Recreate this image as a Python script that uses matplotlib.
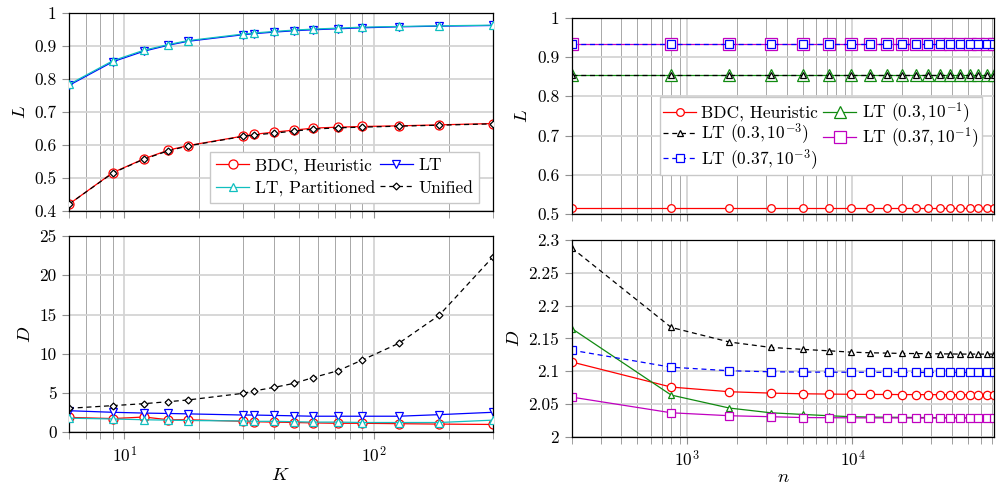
"""Two-by-two log-x comparison of L and D for BDC / LT variants."""
import matplotlib
matplotlib.use("Agg")
import matplotlib.pyplot as plt
import matplotlib.ticker as mticker
import matplotlib as mpl

FS = 12.5

mpl.rcParams.update({
    "font.family": "cmr10",
    "mathtext.fontset": "cm",
    "axes.unicode_minus": False,
    "font.size": FS,
    "axes.linewidth": 0.9,
})

RED = "#ff0000"
BLUE = "#0000ff"
CYAN = "#10bfbf"
BLACK = "#000000"
GREEN = "#108a10"
MAGENTA = "#c000c0"
GRID_MAJ = "#d4d4d4"
GRID_MIN = "#a8a8a8"

# ---------------- left: sweep over K ----------------
K = [6, 9, 12, 15, 18, 30, 33, 40, 48, 57, 72, 90, 126, 183, 300]

L_bdc = [0.420, 0.516, 0.558, 0.584, 0.598, 0.627, 0.632, 0.639, 0.645, 0.651,
         0.654, 0.656, 0.658, 0.661, 0.665]
L_unified = [0.420, 0.515, 0.557, 0.582, 0.597, 0.626, 0.630, 0.636, 0.642, 0.648,
             0.652, 0.654, 0.657, 0.660, 0.664]
L_lt = [0.781, 0.853, 0.885, 0.903, 0.915, 0.935, 0.938, 0.943, 0.947, 0.950,
        0.953, 0.956, 0.959, 0.961, 0.963]
L_ltpart = [0.784, 0.856, 0.888, 0.905, 0.917, 0.937, 0.940, 0.945, 0.949, 0.952,
            0.955, 0.958, 0.960, 0.962, 0.964]

D_bdc = [1.90, 1.75, 1.95, 1.60, 1.60, 1.40, 1.35, 1.30, 1.25, 1.20, 1.15, 1.15,
         1.10, 1.05, 1.00]
D_lt = [2.75, 2.55, 2.45, 2.40, 2.35, 2.20, 2.20, 2.15, 2.10, 2.05, 2.05, 2.05,
        2.05, 2.25, 2.55]
D_ltpart = [1.80, 1.70, 1.60, 1.55, 1.50, 1.45, 1.40, 1.40, 1.35, 1.30, 1.30,
            1.25, 1.25, 1.25, 1.55]
D_unified = [3.06, 3.40, 3.65, 3.90, 4.12, 4.97, 5.26, 5.73, 6.24, 6.96, 7.85,
             9.21, 11.33, 14.90, 22.30]

# ---------------- right: sweep over n ----------------
n = [200, 800, 1800, 3200, 5000, 7200, 9800, 12800, 16200, 20000, 24200, 28800,
     33800, 39200, 45000, 51200, 57800, 64800, 72200]

L_bdc_n = [0.515] * len(n)
L_lt03 = [0.853] * len(n)
L_lt037 = [0.932] * len(n)

D_bdc_n = [2.114, 2.0757, 2.0686, 2.0665, 2.0655, 2.065, 2.0647, 2.0645, 2.0644,
           2.0643, 2.0642, 2.0642, 2.0641, 2.0641, 2.0641, 2.0640, 2.0640, 2.0640,
           2.0640]
D_lt03_e1 = [2.165, 2.0635, 2.0437, 2.0365, 2.034, 2.032, 2.0305, 2.030, 2.0297,
             2.0295, 2.0293, 2.0292, 2.0291, 2.029, 2.029, 2.029, 2.029, 2.029,
             2.029]
D_lt03_e3 = [2.288, 2.1667, 2.1444, 2.1362, 2.1332, 2.131, 2.129, 2.128, 2.1275,
             2.127, 2.1268, 2.1266, 2.1264, 2.1262, 2.126, 2.126, 2.126, 2.126,
             2.126]
D_lt037_e1 = [2.0604, 2.0365, 2.032, 2.0305, 2.0292, 2.029, 2.0288, 2.0287,
              2.0286, 2.0286, 2.0285, 2.0285, 2.0285, 2.0285, 2.0285, 2.0285,
              2.0285, 2.0285, 2.0285]
D_lt037_e3 = [2.132, 2.106, 2.1006, 2.099, 2.0986, 2.0984, 2.0983, 2.0982, 2.0981,
              2.098, 2.098, 2.098, 2.098, 2.098, 2.098, 2.098, 2.098, 2.098, 2.098]


def style_axes(ax):
    ax.set_xscale("log")
    ax.grid(True, which="major", color=GRID_MAJ, linewidth=1.3)
    ax.grid(True, which="minor", axis="x", color=GRID_MIN, linewidth=0.7)
    ax.set_axisbelow(True)
    ax.tick_params(which="both", direction="out", color="#909090", labelsize=FS,
                   pad=4)
    ax.tick_params(which="major", length=5, width=0.8)
    ax.tick_params(which="minor", length=5, width=0.6)
    ax.xaxis.set_minor_formatter(mticker.NullFormatter())
    ax.yaxis.set_major_formatter(mticker.FuncFormatter(lambda v, p: f"{v:g}"))
    for sp in ax.spines.values():
        sp.set_color("black")


def line(ax, x, y, color, marker, ms, ls="-", label=None, z=2):
    ax.plot(x, y, ls, color=color, lw=0.9, marker=marker, ms=ms,
            mfc="white", mec=color, mew=0.9, label=label, zorder=z,
            dashes=(4, 3) if ls == "--" else (None, None))


LEG = dict(borderaxespad=0, fontsize=FS, frameon=True, fancybox=False,
           edgecolor="#c8c8c8", framealpha=1, handlelength=1.9,
           handletextpad=0.3, columnspacing=0.3)

fig = plt.figure(figsize=(10.03, 4.88), dpi=100)
ax_lt = fig.add_axes([0.0688, 0.5682, 0.4224, 0.4045])
ax_lb = fig.add_axes([0.0688, 0.1141, 0.4224, 0.4023])
ax_rt = fig.add_axes([0.5700, 0.5609, 0.4213, 0.4029])
ax_rb = fig.add_axes([0.5700, 0.1051, 0.4213, 0.4031])

for ax in (ax_lt, ax_lb, ax_rt, ax_rb):
    style_axes(ax)

# --- left top
line(ax_lt, K, L_bdc, RED, "o", 6.5, label="BDC, Heuristic", z=2)
line(ax_lt, K, L_ltpart, CYAN, "^", 5.5, label="LT, Partitioned", z=4)
line(ax_lt, K, L_lt, BLUE, "v", 5.5, label="LT", z=3)
line(ax_lt, K, L_unified, BLACK, "D", 3.5, ls="--", label="Unified", z=3)
ax_lt.set_xlim(6, 300)
ax_lt.set_ylim(0.4, 1.0)
ax_lt.set_yticks([0.4, 0.5, 0.6, 0.7, 0.8, 0.9, 1.0])
ax_lt.set_ylabel("$L$", fontsize=FS + 1, labelpad=4)
ax_lt.set_xticks([10, 100])
ax_lt.set_xticklabels([])
ax_lt.legend(ncol=2, loc="lower right", bbox_to_anchor=(0.968, 0.039),
             borderpad=0.35, labelspacing=0.4, **LEG)

# --- left bottom
line(ax_lb, K, D_bdc, RED, "o", 6.5)
line(ax_lb, K, D_lt, BLUE, "v", 5.5)
line(ax_lb, K, D_ltpart, CYAN, "^", 5.5, z=3)
line(ax_lb, K, D_unified, BLACK, "D", 3.5, ls="--")
ax_lb.set_xlim(6, 300)
ax_lb.set_ylim(0, 25)
ax_lb.set_yticks([0, 5, 10, 15, 20, 25])
ax_lb.set_xticks([10, 100])
ax_lb.set_xticklabels(["$10^1$", "$10^2$"])
ax_lb.set_xlabel("$K$", fontsize=FS + 1, labelpad=1)
ax_lb.set_ylabel("$D$", fontsize=FS + 1, labelpad=4)

# --- right top
line(ax_rt, n, L_bdc_n, RED, "o", 5.5, label="BDC, Heuristic")
line(ax_rt, n, L_lt03, GREEN, "^", 9, label=r"LT $(0.3, 10^{-1})$")
line(ax_rt, n, L_lt03, BLACK, "^", 4, ls="--", label=r"LT $(0.3, 10^{-3})$")
line(ax_rt, n, L_lt037, MAGENTA, "s", 8.5, label=r"LT $(0.37, 10^{-1})$")
line(ax_rt, n, L_lt037, BLUE, "s", 5.5, ls="--", label=r"LT $(0.37, 10^{-3})$")
ax_rt.set_xlim(200, 72200)
ax_rt.set_ylim(0.5, 1.0)
ax_rt.set_yticks([0.5, 0.6, 0.7, 0.8, 0.9, 1.0])
ax_rt.set_xticks([1000, 10000])
ax_rt.set_xticklabels([])
ax_rt.set_ylabel("$L$", fontsize=FS + 1, labelpad=4)
h, lab = ax_rt.get_legend_handles_labels()
order = [0, 2, 4, 1, 3]
ax_rt.legend([h[i] for i in order], [lab[i] for i in order], ncol=2,
             loc="upper right", bbox_to_anchor=(0.970, 0.598),
             borderpad=0.2, labelspacing=0.02, **LEG)

# --- right bottom
line(ax_rb, n, D_bdc_n, RED, "o", 6)
line(ax_rb, n, D_lt03_e1, GREEN, "^", 5)
line(ax_rb, n, D_lt03_e3, BLACK, "^", 5, ls="--")
line(ax_rb, n, D_lt037_e1, MAGENTA, "s", 5.5)
line(ax_rb, n, D_lt037_e3, BLUE, "s", 5.5, ls="--")
ax_rb.set_xlim(200, 72200)
ax_rb.set_ylim(2.0, 2.3)
ax_rb.set_yticks([2.0, 2.05, 2.1, 2.15, 2.2, 2.25, 2.3])
ax_rb.set_xticks([1000, 10000])
ax_rb.set_xticklabels(["$10^3$", "$10^4$"])
ax_rb.set_xlabel("$n$", fontsize=FS + 1, labelpad=-1)
ax_rb.set_ylabel("$D$", fontsize=FS + 1, labelpad=4)

fig.savefig("out.png", dpi=100)
